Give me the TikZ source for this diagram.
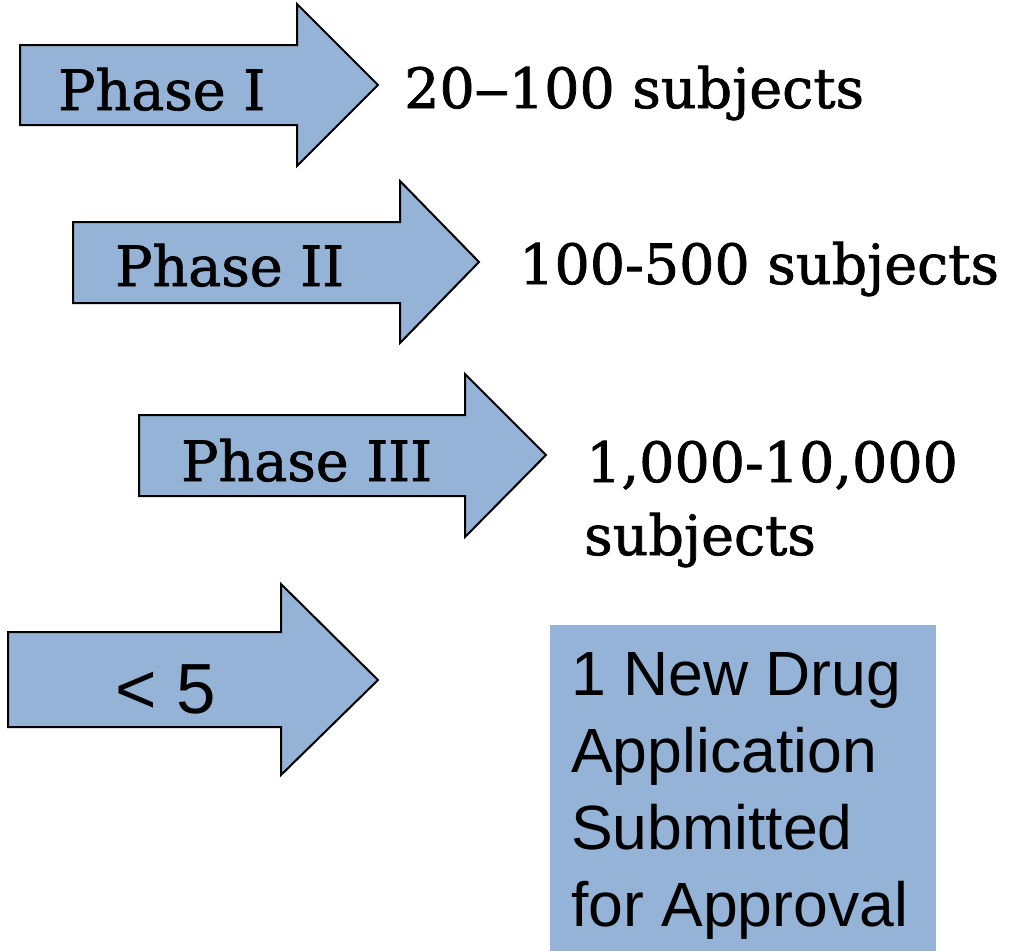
\documentclass[tikz,border=0pt]{standalone}
\usepackage{fontspec}
\setmainfont{DejaVu Serif}[FakeBold=1.3]
\newfontfamily\arialfont{Liberation Sans}
\definecolor{arrowblue}{RGB}{149,179,215}
\tikzset{
  phasearrow/.style={fill=arrowblue, draw=black, line width=2pt, line join=miter},
  seriftext/.style={inner sep=0pt, anchor=base west, font={\fontsize{55.5}{72}\selectfont}},
  sanstext/.style={inner sep=0pt, anchor=base west, font={\arialfont\fontsize{62.5}{77.2}\selectfont}},
}
\begin{document}
\begin{tikzpicture}[x=1pt,y=-1pt]
\useasboundingbox (0,0) rectangle (1024,951);
% arrows
\draw[phasearrow] (20,45) -- (297,45) -- (297,4) -- (378,85) -- (297,166) -- (297,125) -- (20,125) -- cycle;
\draw[phasearrow] (73,222) -- (400,222) -- (400,181) -- (479,262) -- (400,343) -- (400,303) -- (73,303) -- cycle;
\draw[phasearrow] (139,415) -- (465,415) -- (465,374) -- (546,455) -- (465,537) -- (465,496) -- (139,496) -- cycle;
\draw[phasearrow] (8,632) -- (281,632) -- (281,584) -- (378,680) -- (281,775) -- (281,727) -- (8,727) -- cycle;
% arrow labels
\node[seriftext] (p1) at (58,110) {Phase I};
\node[seriftext] (p2) at (115,286) {Phase II};
\node[seriftext] (p3) at (181,481) {Phase III};
\node[sanstext, font={\arialfont\fontsize{71}{80}\selectfont}] (lt) at (115,713) {< 5};
% subject counts
\node[seriftext] (s1) at (404,108) {20\kern-1pt\scalebox{1.3}[1]{–}\kern-1pt100 subjects};
\node[seriftext] (s2) at (519,284) {100-500 subjects};
\node[seriftext] (s3) at (586,482) {1,000-10,000};
\node[seriftext] (s3b) at (584,555) {subjects};
% NDA box
\fill[arrowblue] (550,625) rectangle (936,951);
\node[sanstext, anchor=north west, align=left] (nda) at (571,652) {1 New Drug\\Application\\Submitted\\for Approval};
\end{tikzpicture}
\end{document}
